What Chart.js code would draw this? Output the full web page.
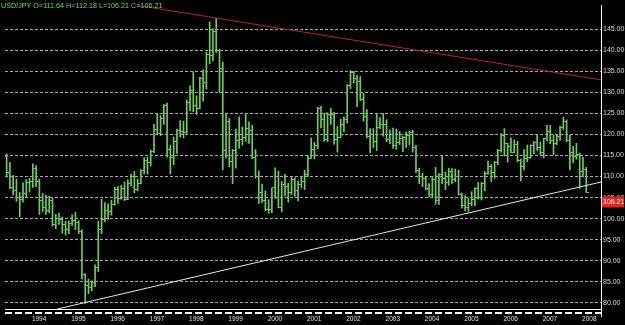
<!DOCTYPE html>
<html>
<head>
<meta charset="utf-8">
<script src="https://cdn.jsdelivr.net/npm/chart.js"></script>
<style>
  html, body { margin: 0; padding: 0; background: #000; }
  canvas { display: block; }
</style>
</head>
<body>
<canvas id="chart" width="625" height="325"></canvas>
<script>
// USD/JPY monthly bars, Apr 1993 .. Jan 2008
const symbol = 'USD/JPY';
const startYear = 1993;
const startMonth = 4;

const opens = [
  114.8, 111.0, 107.5, 106.6, 105.0, 104.6, 105.9, 108.5, 108.8,
  111.8, 108.9, 104.3, 102.7, 102.0, 104.4, 98.5, 100.1, 99.8, 98.6, 97.3, 98.9,
  99.6, 99.0, 97.0, 86.6, 84.1, 83.6, 84.7, 88.4, 97.3, 99.7, 101.9, 101.7,
  103.4, 106.9, 104.8, 107.1, 104.6, 108.3, 109.9, 106.9, 108.4, 111.4, 113.8, 113.4,
  115.9, 121.2, 120.2, 123.9, 126.8, 116.4, 114.6, 118.4, 121.0, 120.7, 120.5, 127.7,
  130.4, 127.0, 126.3, 133.3, 132.4, 139.0, 138.7, 144.6, 139.9, 135.6, 116.1, 123.2,
  113.6, 116.2, 118.6, 118.8, 119.3, 121.4, 121.0, 114.5, 109.9, 106.3, 104.4, 102.2,
  102.2, 107.3, 110.1, 102.7, 108.2, 107.7, 106.1, 109.3, 106.6, 108.1, 108.8, 110.5,
  114.4, 116.4, 117.3, 126.1, 123.6, 118.8, 124.7, 124.8, 118.8, 119.3, 122.4, 123.6,
  131.7, 134.7, 133.4, 132.7, 128.4, 124.2, 119.5, 119.9, 118.3, 121.7, 122.4, 122.4,
  118.8, 119.9, 117.3, 118.1, 119.1, 119.3, 119.7, 120.5, 116.9, 111.4, 110.1, 109.5,
  107.2, 105.8, 109.2, 104.2, 110.4, 109.6, 108.6, 111.3, 109.4, 110.1, 105.8, 103.1,
  102.6, 103.6, 104.6, 107.1, 104.9, 108.3, 110.8, 112.4, 110.9, 113.3, 116.3, 119.7,
  117.8, 117.2, 115.8, 117.6, 113.8, 112.5, 114.4, 114.6, 117.3, 118.1, 116.9, 115.7,
  119.0, 120.7, 118.5, 117.8, 119.5, 121.7, 123.2, 118.6, 115.8, 114.8, 115.3, 111.2,
  111.64
];
const highs = [
  115.4, 113.4, 110.3, 109.4, 106.2, 108.5, 109.3, 109.6, 113.0,
  112.6, 109.4, 106.0, 105.6, 105.3, 104.8, 101.0, 101.3, 100.4, 99.4, 99.4, 100.9,
  101.5, 99.5, 97.3, 86.9, 85.6, 85.2, 89.0, 99.4, 104.6, 103.8, 103.5, 104.4,
  107.5, 107.6, 107.9, 108.7, 109.2, 110.5, 111.2, 109.4, 111.6, 114.5, 114.6, 116.3,
  122.4, 124.9, 124.5, 127.2, 127.5, 117.5, 119.4, 121.3, 123.3, 123.2, 128.2, 131.6,
  134.9, 129.2, 133.6, 135.4, 139.6, 146.8, 145.2, 147.7, 140.3, 137.2, 124.8, 123.8,
  116.5, 121.3, 124.2, 121.8, 124.9, 123.0, 122.2, 116.4, 111.3, 108.2, 106.6, 104.5,
  107.3, 112.1, 111.3, 108.8, 110.5, 108.4, 110.0, 109.7, 108.9, 109.9, 111.5, 115.0,
  119.2, 118.1, 126.5, 126.7, 125.1, 125.2, 126.2, 125.3, 121.9, 123.7, 124.2, 131.9,
  135.2, 135.0, 134.1, 133.8, 129.8, 125.9, 121.4, 121.4, 125.0, 124.0, 125.0, 123.5,
  121.0, 121.5, 121.3, 120.7, 119.6, 120.6, 120.9, 121.0, 117.4, 112.0, 110.8, 109.8,
  108.3, 109.8, 112.2, 110.7, 114.9, 111.1, 112.0, 111.9, 111.8, 111.5, 106.1, 105.4,
  104.9, 106.4, 107.4, 108.6, 108.6, 111.2, 113.7, 112.9, 113.6, 116.4, 120.2, 121.4,
  117.9, 119.2, 118.7, 118.4, 114.2, 116.4, 117.5, 117.6, 118.3, 119.9, 118.2, 119.1,
  122.2, 122.2, 119.8, 120.0, 122.0, 124.1, 123.5, 119.8, 117.2, 117.9, 115.6, 114.6,
  112.18
];
const lows = [
  109.9, 107.1, 105.6, 104.1, 100.4, 103.9, 104.9, 106.3, 107.4,
  107.6, 101.0, 101.7, 101.0, 101.4, 98.2, 97.6, 98.6, 96.5, 96.1, 96.4, 98.4,
  97.4, 96.4, 85.6, 79.8, 82.1, 82.8, 83.8, 87.4, 96.4, 99.2, 99.8, 100.8,
  103.2, 103.6, 104.6, 104.3, 104.5, 107.8, 106.1, 106.6, 108.3, 110.6, 110.6, 112.5,
  115.6, 119.9, 119.7, 122.4, 114.6, 110.6, 112.8, 115.5, 119.4, 119.2, 120.3, 125.6,
  125.4, 124.8, 126.1, 127.9, 130.8, 136.8, 137.5, 139.5, 130.0, 111.6, 114.4, 112.3,
  108.3, 112.0, 116.7, 117.5, 118.4, 117.9, 114.2, 109.6, 103.6, 103.8, 101.9, 101.3,
  101.4, 104.8, 102.6, 101.6, 105.4, 103.9, 105.7, 105.3, 104.2, 107.3, 106.9, 110.0,
  114.3, 114.2, 116.6, 121.6, 118.4, 118.3, 122.4, 117.7, 115.8, 119.2, 120.6, 122.7,
  130.9, 132.2, 126.6, 128.1, 123.2, 119.2, 115.6, 116.9, 116.2, 121.4, 119.6, 118.3,
  117.8, 116.7, 116.5, 117.6, 115.9, 116.9, 117.5, 115.8, 110.9, 108.3, 107.6, 106.8,
  105.2, 104.9, 103.4, 103.4, 108.3, 106.9, 107.9, 108.3, 108.8, 105.6, 102.5, 101.9,
  101.7, 103.0, 103.1, 104.6, 104.4, 106.6, 110.5, 108.8, 109.6, 112.8, 115.8, 114.9,
  113.4, 115.6, 115.6, 113.5, 108.9, 111.6, 113.5, 114.3, 115.4, 116.2, 115.1, 114.4,
  118.5, 117.8, 115.2, 117.6, 118.6, 121.2, 118.3, 111.6, 113.3, 114.1, 107.2, 109.9,
  106.21
];
const closes = [
  111.0, 107.5, 106.6, 105.0, 104.6, 105.9, 108.5, 108.8, 111.8,
  108.9, 104.3, 102.7, 102.0, 104.4, 98.5, 100.1, 99.8, 98.6, 97.3, 98.9, 99.6,
  99.0, 97.0, 86.6, 84.1, 83.6, 84.7, 88.4, 97.3, 99.7, 101.9, 101.7, 103.4,
  106.9, 104.8, 107.1, 104.6, 108.3, 109.9, 106.9, 108.4, 111.4, 113.8, 113.4, 115.9,
  121.2, 120.2, 123.9, 126.8, 116.4, 114.6, 118.4, 121.0, 120.7, 120.5, 127.7, 130.4,
  127.0, 126.3, 133.3, 132.4, 139.0, 138.7, 144.6, 139.9, 135.6, 116.1, 123.2, 113.6,
  116.2, 118.6, 118.8, 119.3, 121.4, 121.0, 114.5, 109.9, 106.3, 104.4, 102.2, 102.2,
  107.3, 110.1, 102.7, 108.2, 107.7, 106.1, 109.3, 106.6, 108.1, 108.8, 110.5, 114.4,
  116.4, 117.3, 126.1, 123.6, 118.8, 124.7, 124.8, 118.8, 119.3, 122.4, 123.6, 131.7,
  134.7, 133.4, 132.7, 128.4, 124.2, 119.5, 119.9, 118.3, 121.7, 122.4, 122.4, 118.8,
  119.9, 117.3, 118.1, 119.1, 119.3, 119.7, 120.5, 116.9, 111.4, 110.1, 109.5, 107.2,
  105.8, 109.2, 104.2, 110.4, 109.6, 108.6, 111.3, 109.4, 110.1, 105.8, 103.1, 102.6,
  103.6, 104.6, 107.1, 104.9, 108.3, 110.8, 112.4, 110.9, 113.3, 116.3, 119.7, 117.8,
  117.2, 115.8, 117.6, 113.8, 112.5, 114.4, 114.6, 117.3, 118.1, 116.9, 115.7, 119.0,
  120.7, 118.5, 117.8, 119.5, 121.7, 123.2, 118.6, 115.8, 114.8, 115.3, 111.2, 111.6,
  106.21
];

const yearLabels = ['1994', '1995', '1996', '1997', '1998', '1999', '2000', '2001',
  '2002', '2003', '2004', '2005', '2006', '2007', '2008'];
const priceTicks = [80, 85, 90, 95, 100, 105, 110, 115, 120, 125, 130, 135, 140, 145];

// trend lines: x = month index from Apr 1993, y = price
const resistanceLine = [{ x: 40, y: 150.7 }, { x: 181.5, y: 133.0 }];
const supportLine = [{ x: 15.5, y: 78.5 }, { x: 181.5, y: 108.7 }];

const barColor = 'rgb(112, 204, 92)';
const font = '"Liberation Sans", Arial, sans-serif';
const last = closes.length - 1;

// small tick images for open (left) and close (right)
function makeTick(side) {
  const c = document.createElement('canvas');
  c.width = 5;
  c.height = 1;
  const g = c.getContext('2d');
  g.fillStyle = barColor;
  g.fillRect(side === 'left' ? 0 : 3, 0, 2, 1);
  return c;
}

const overlay = {
  id: 'overlay',
  afterDraw(chart) {
    const { ctx, chartArea, scales } = chart;
    ctx.save();
    // dashed band under the time axis
    ctx.strokeStyle = '#fff';
    ctx.lineWidth = 2;
    ctx.setLineDash([7, 3]);
    ctx.beginPath();
    ctx.moveTo(chartArea.left, chartArea.bottom + 4);
    ctx.lineTo(chartArea.right, chartArea.bottom + 4);
    ctx.stroke();
    ctx.setLineDash([]);
    ctx.lineWidth = 1;
    ctx.beginPath();
    ctx.moveTo(chartArea.right + 0.5, chartArea.bottom);
    ctx.lineTo(chartArea.right + 0.5, chartArea.bottom + 8);
    ctx.stroke();

    // header text
    const header = symbol + ' O=' + opens[last].toFixed(2) + ' H=' + highs[last].toFixed(2) +
      ' L=' + lows[last].toFixed(2) + ' C=' + closes[last].toFixed(2);
    ctx.font = '7.2px ' + font;
    ctx.fillStyle = 'rgb(120, 214, 98)';
    ctx.textBaseline = 'alphabetic';
    ctx.textAlign = 'left';
    ctx.fillText(header, 1, 8);

    // last price box
    const py = scales.y.getPixelForValue(closes[last]);
    ctx.font = '7px ' + font;
    ctx.fillStyle = '#e3231e';
    ctx.fillRect(chartArea.right + 1, py + 4, 22, 11);
    ctx.fillStyle = '#fff';
    ctx.textBaseline = 'middle';
    ctx.fillText(closes[last].toFixed(2), chartArea.right + 2, py + 9.5);
    ctx.restore();
  }
};

new Chart(document.getElementById('chart'), {
  type: 'bar',
  data: {
    datasets: [
      {
        type: 'line',
        data: resistanceLine,
        borderColor: '#b3262a',
        borderWidth: 1,
        pointRadius: 0
      },
      {
        type: 'line',
        data: supportLine,
        borderColor: '#e6e6e6',
        borderWidth: 1,
        pointRadius: 0
      },
      {
        type: 'line',
        data: opens.map((v, i) => ({ x: i, y: v })),
        showLine: false,
        pointStyle: makeTick('left'),
        pointRadius: 1
      },
      {
        type: 'line',
        data: closes.map((v, i) => ({ x: i, y: v })),
        showLine: false,
        pointStyle: makeTick('right'),
        pointRadius: 1
      },
      {
        type: 'bar',
        data: lows.map((v, i) => ({ x: i, y: [v, highs[i]] })),
        backgroundColor: barColor,
        borderWidth: 0,
        barThickness: 1
      }
    ]
  },
  options: {
    responsive: false,
    animation: false,
    events: [],
    layout: { padding: 0 },
    plugins: {
      legend: { display: false },
      tooltip: { enabled: false }
    },
    scales: {
      x: {
        type: 'linear',
        offset: false,
        min: -0.5,
        max: opens.length + 3.5,
        grid: { display: false, drawTicks: false, tickLength: 0 },
        border: { display: true, color: '#fff', width: 1 },
        afterBuildTicks: (scale) => {
          scale.ticks = yearLabels.map(y => ({ value: (Number(y) - startYear) * 12 + 1 - startMonth }));
        },
        afterFit: (scale) => {
          scale.height = 16;
          scale.paddingLeft = 0;
          scale.paddingRight = 0;
        },
        ticks: {
          autoSkip: false,
          maxRotation: 0,
          padding: 6,
          labelOffset: 3,
          color: '#e0e0e0',
          font: { family: font, size: 6.5 },
          callback: (value, index) => yearLabels[index]
        }
      },
      y: {
        position: 'right',
        min: 78.5,
        max: 150.8,
        grid: { color: '#a8a8a8', lineWidth: 1, drawTicks: false },
        border: { display: true, color: '#fff', width: 1, dash: [3, 2] },
        afterBuildTicks: (scale) => {
          scale.ticks = priceTicks.map(v => ({ value: v }));
        },
        afterFit: (scale) => {
          scale.width = 24;
          scale.paddingTop = 0;
          scale.paddingBottom = 0;
        },
        ticks: {
          padding: 2,
          color: '#dcdcdc',
          font: { family: font, size: 7 },
          callback: (value) => Number(value).toFixed(2)
        }
      }
    }
  },
  plugins: [overlay]
});
</script>
</body>
</html>
